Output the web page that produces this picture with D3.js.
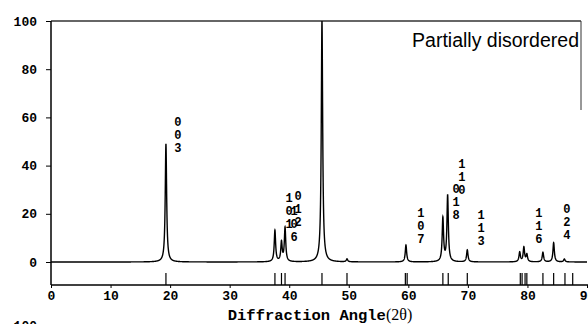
<!DOCTYPE html>
<html>
<head>
<meta charset="utf-8">
<script src="https://cdn.jsdelivr.net/npm/d3@7"></script>
<style>
  body { margin: 0; background: #fff; }
  svg { display: block; }
</style>
</head>
<body>
<div id="chart"></div>
<script>
// peak list: 2theta position, relative intensity
const peakPos = [19.3, 37.6, 38.7, 39.3, 45.5, 49.7, 59.6, 65.8, 66.6, 69.9, 78.7, 79.4, 79.9, 82.6, 84.4, 86.2];
const peakInt = [49, 13, 8, 14, 100, 1.2, 7, 18, 27.5, 5, 4, 6, 3, 4, 8, 1.2];
// reference stick positions drawn under the pattern
const sticks = [19.3, 37.6, 38.7, 39.3, 45.5, 49.7, 59.5, 59.8, 65.8, 66.7, 69.9, 78.8, 79.1, 79.6, 79.9, 82.6, 84.4, 86.3, 87.6];
// miller index labels: text, angle, top intensity
const hklText = ["003", "101", "012", "106", "107", "018", "110", "113", "116", "024"];
const hklAngle = [21.3, 40.0, 41.5, 40.8, 62.1, 68.0, 69.0, 72.2, 81.9, 86.6];
const hklTop = [56.4, 24.9, 25.7, 19.5, 18.7, 28.6, 39, 17.8, 18.7, 20.3];
const yTicks = [0, 20, 40, 60, 80, 100];
const xTicks = [0, 10, 20, 30, 40, 50, 60, 70, 80, 90];

const W = 588, H = 324;
const svg = d3.select("#chart").append("svg").attr("width", W).attr("height", H);

const x = d3.scaleLinear().domain([0, 90]).range([51, 587]);
const y = d3.scaleLinear().domain([0, 100]).range([262, 21]);
const axisY = 285;
const monoBold = "'Liberation Mono', 'DejaVu Sans Mono', monospace";

// frame
svg.append("line").attr("x1", 51).attr("x2", 581).attr("y1", 21).attr("y2", 21)
  .attr("stroke", "#333").attr("stroke-width", 1.3);
svg.append("line").attr("x1", 581).attr("x2", 581).attr("y1", 21).attr("y2", 110)
  .attr("stroke", "#333").attr("stroke-width", 1);

// y axis
const gy = svg.append("g").attr("transform", "translate(51,0)")
  .call(d3.axisLeft(y).tickValues(yTicks).tickSize(5).tickPadding(9));
gy.select(".domain").remove();
svg.append("line").attr("x1", 51).attr("x2", 51).attr("y1", 21).attr("y2", axisY)
  .attr("stroke", "#000").attr("stroke-width", 1.5);
gy.selectAll("text").attr("font-family", monoBold).attr("font-weight", "bold")
  .attr("font-size", 13).attr("fill", "#000");

// x axis
const gx = svg.append("g").attr("transform", `translate(0,${axisY})`)
  .call(d3.axisBottom(x).tickValues(xTicks).tickSize(3).tickPadding(3));
gx.select(".domain").attr("stroke-width", 1.5).attr("d", `M51,0H${W}`);
gx.selectAll("text").attr("font-family", monoBold).attr("font-weight", "bold")
  .attr("font-size", 13).attr("fill", "#000");

// sticks
svg.append("g").selectAll("line").data(sticks).join("line")
  .attr("x1", d => x(d)).attr("x2", d => x(d))
  .attr("y1", 273).attr("y2", axisY)
  .attr("stroke", "#000").attr("stroke-width", 1.2);

// pattern profile from the peak list (lorentzian shape)
const hw = 0.14;
const grid = d3.range(0, 90.001, 0.01);
const profile = grid.map(t => {
  let s = 0;
  peakPos.forEach((p, i) => { s += peakInt[i] / (1 + ((t - p) / hw) ** 2); });
  return [t, Math.min(s, 100)];
});
svg.append("path").datum(profile)
  .attr("fill", "none").attr("stroke", "#000").attr("stroke-width", 1.4)
  .attr("d", d3.line().x(d => x(d[0])).y(d => y(d[1])));

// hkl labels, one digit per line
const lab = svg.append("g").attr("font-family", monoBold).attr("font-weight", "bold")
  .attr("font-size", 12).attr("text-anchor", "middle");
hklText.forEach((t, i) => {
  t.split("").forEach((c, k) => {
    lab.append("text").attr("x", x(hklAngle[i])).attr("y", y(hklTop[i]) + k * 13).text(c);
  });
});

// panel title
svg.append("text").attr("x", 579).attr("y", 47).attr("text-anchor", "end")
  .attr("font-family", "'Liberation Sans', Arial, sans-serif").attr("font-size", 19.5)
  .text("Partially disordered");

// x axis title
const xt = svg.append("text").attr("x", 320).attr("y", 320).attr("text-anchor", "middle");
xt.append("tspan").attr("font-family", monoBold).attr("font-weight", "bold").attr("font-size", 15.5)
  .text("Diffraction Angle");
xt.append("tspan").attr("font-family", "'Liberation Serif', serif").attr("font-size", 16).text("(2\u03b8)");

// start of the next panel, cut off at the bottom
svg.append("text").attr("x", 37).attr("y", 330).attr("text-anchor", "end")
  .attr("font-family", monoBold).attr("font-weight", "bold").attr("font-size", 13).text("100");
</script>
</body>
</html>
